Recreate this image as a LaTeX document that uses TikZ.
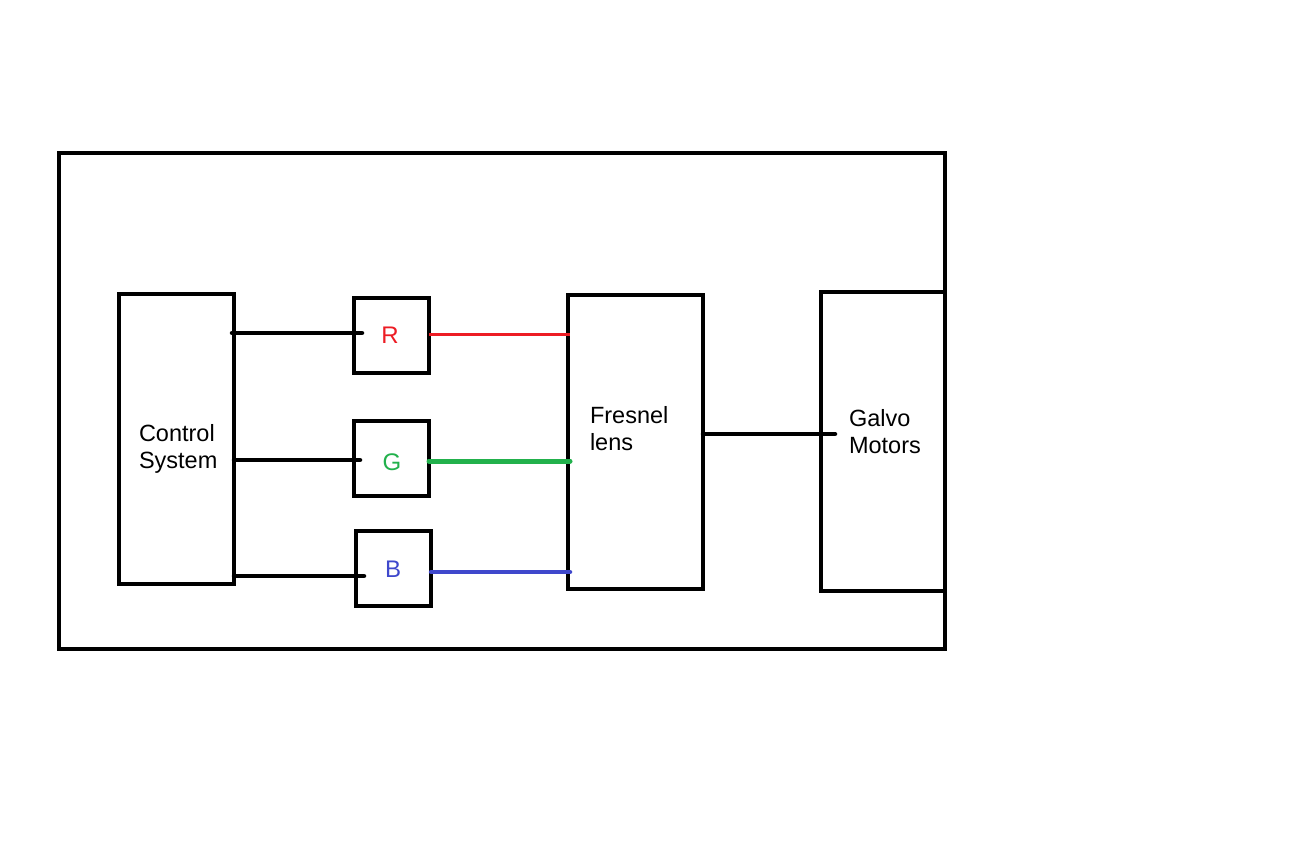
\documentclass[tikz,border=0pt]{standalone}
\usepackage{fontspec}
\setmainfont{Liberation Sans}
\definecolor{pr}{RGB}{237,28,36}
\definecolor{pg}{RGB}{34,177,76}
\definecolor{pb}{RGB}{63,72,204}
\begin{document}
\begin{tikzpicture}[x=1pt,y=-1pt,
  box/.style={draw=black,line width=4.5pt,rectangle,inner sep=0pt,outer sep=0pt},
  conn/.style={line width=4.5pt,line cap=round},
  lbl/.style={inner sep=0pt,outer sep=0pt,align=left,anchor=base west,font=\fontsize{23.5}{27}\selectfont},
  rgb/.style={inner sep=0pt,font=\fontsize{24}{26}\selectfont}]
\useasboundingbox[fill=white] (0,0) rectangle (1296,864);
\node[box,minimum width=886pt,minimum height=496pt] (frame) at (502,401) {};
\node[box,minimum width=115pt,minimum height=290pt] (ctrl) at (176.5,439) {};
\node[box,minimum width=75pt,minimum height=75pt] (R) at (391.5,335.5) {};
\node[box,minimum width=75pt,minimum height=75pt] (G) at (391.5,458.5) {};
\node[box,minimum width=75pt,minimum height=75pt] (B) at (393.5,568.5) {};
\node[box,minimum width=135pt,minimum height=294pt] (fres) at (635.5,442) {};
\node[box,minimum width=124pt,minimum height=299pt] (galvo) at (883,441.5) {};
\node[lbl] (ctrltxt) at (139,468) {Control\\System};
\node[lbl] (frestxt) at (590,450) {Fresnel\\lens};
\node[lbl] (galvotxt) at (849,453) {Galvo\\Motors};
\node[rgb,text=pr] (Rt) at (390,335) {R};
\node[rgb,text=pg] (Gt) at (392,462) {G};
\node[rgb,text=pb] (Bt) at (393,569) {B};
\coordinate (ra) at (232,333);
\coordinate (ga) at (234,460);
\coordinate (ba) at (234,576);
\draw[conn] (ra) -- ([xshift=8pt]R.west |- ra);
\draw[conn] (ga) -- ([xshift=6pt]G.west |- ga);
\draw[conn] (ba) -- ([xshift=8pt]B.west |- ba);
\draw[pr,line width=3pt] (R.east |- 0,334) -- ([xshift=2pt]fres.west |- 0,334);
\draw[pg,line width=5pt,line cap=round] (G.east |- 0,461) -- ([xshift=2pt]fres.west |- 0,461);
\draw[pb,line width=4.5pt,line cap=round] (B.east |- 0,572) -- ([xshift=2pt]fres.west |- 0,572);
\draw[conn] (fres.east |- 0,434) -- ([xshift=14pt]galvo.west |- 0,434);
\end{tikzpicture}
\end{document}
